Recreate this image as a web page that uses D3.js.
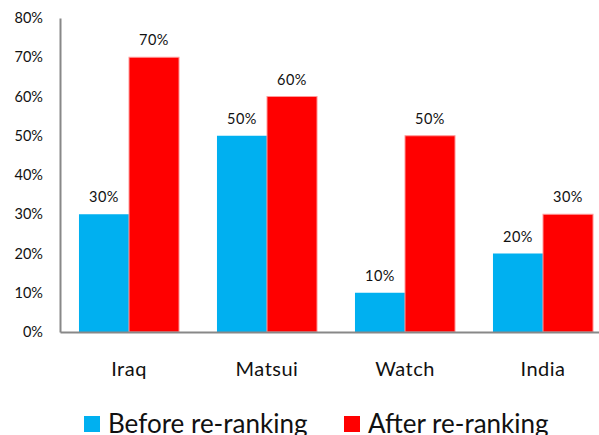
<!DOCTYPE html>
<html lang="en">
<head>
  <meta charset="UTF-8">
  <title>Re-ranking</title>
  <script src="https://cdn.jsdelivr.net/npm/d3@7"></script>
  <style>
    body { margin: 0; background: #fff; }
    * { font-family: 'Lato', 'Open Sans', sans-serif; }
    .axis path { stroke: #888; stroke-width: 2; }
    .axis line { display: none; }
  </style>
</head>
<body>
  <div id="chart"></div>
  <script>
    // data
    const categories = ['Iraq', 'Matsui', 'Watch', 'India'];
    const seriesNames = ['Before re-ranking', 'After re-ranking'];
    const before = [0.30, 0.50, 0.10, 0.20];
    const after = [0.70, 0.60, 0.50, 0.30];
    const yTicks = [0, 0.1, 0.2, 0.3, 0.4, 0.5, 0.6, 0.7, 0.8];
    const colors = ['#00b0f0', '#ff0000'];

    const width = 599, height = 435;
    const margin = { top: 18, left: 60, bottom: 103, plotRight: 612 };

    let svg = d3.select('#chart').append('svg')
      .attr('width', width)
      .attr('height', height);

    let x = d3.scaleBand()
      .domain(categories)
      .range([margin.left, margin.plotRight])
      .paddingInner(0.275)
      .paddingOuter(0.1375);

    let xSub = d3.scaleBand()
      .domain(seriesNames)
      .range([0, x.bandwidth()]);

    let y = d3.scaleLinear()
      .domain([0, 0.8])
      .range([height - margin.bottom, margin.top]);

    let table = categories.map((c, i) => ({ cat: c, values: [before[i], after[i]] }));

    // bars
    let groups = svg.selectAll('.grp')
      .data(table)
      .enter().append('g')
      .attr('class', 'grp')
      .attr('transform', d => `translate(${x(d.cat)},0)`);

    groups.selectAll('rect')
      .data(d => d.values.map((v, i) => ({ name: seriesNames[i], v: v, i: i })))
      .enter().append('rect')
      .attr('x', d => xSub(d.name))
      .attr('y', d => y(d.v))
      .attr('width', xSub.bandwidth())
      .attr('height', d => y(0) - y(d.v))
      .style('fill', d => colors[d.i])
      .style('stroke', d => d.i === 1 ? '#ff9a9a' : 'none')
      .style('stroke-width', 1);

    // value labels
    groups.selectAll('.val')
      .data(d => d.values.map((v, i) => ({ name: seriesNames[i], v: v })))
      .enter().append('text')
      .attr('class', 'val')
      .attr('x', d => xSub(d.name) + xSub.bandwidth() / 2)
      .attr('y', d => y(d.v) - 12)
      .style('text-anchor', 'middle')
      .style('font-size', '14.5px')
      .style('letter-spacing', '0.5px')
      .style('fill', '#111')
      .text(d => d3.format('.0%')(d.v));

    // axes
    let yAxis = d3.axisLeft(y)
      .tickValues(yTicks)
      .tickFormat(d3.format('.0%'))
      .tickSize(0)
      .tickSizeOuter(0)
      .tickPadding(17);
    svg.append('g')
      .attr('class', 'axis')
      .attr('transform', `translate(${margin.left},0)`)
      .call(yAxis)
      .call(g => g.selectAll('text').style('font-size', '14.5px').style('fill', '#111'));

    let xAxis = d3.axisBottom(x)
      .tickSize(0)
      .tickSizeOuter(0)
      .tickPadding(30);
    svg.append('g')
      .attr('class', 'axis')
      .attr('transform', `translate(0,${y(0)})`)
      .call(xAxis)
      .call(g => g.selectAll('text').style('font-size', '20px').style('letter-spacing', '0.5px').style('fill', '#111'));

    // legend
    let legendX = [84, 344];
    let legend = svg.selectAll('.legend')
      .data(seriesNames)
      .enter().append('g')
      .attr('class', 'legend')
      .attr('transform', (d, i) => `translate(${legendX[i]}, 416)`);
    legend.append('rect')
      .attr('width', 16)
      .attr('height', 16)
      .style('fill', (d, i) => colors[i]);
    legend.append('text')
      .attr('x', 24)
      .attr('y', 17)
      .style('font-size', '26px')
      .style('fill', '#111')
      .text(d => d);
  </script>
</body>
</html>
